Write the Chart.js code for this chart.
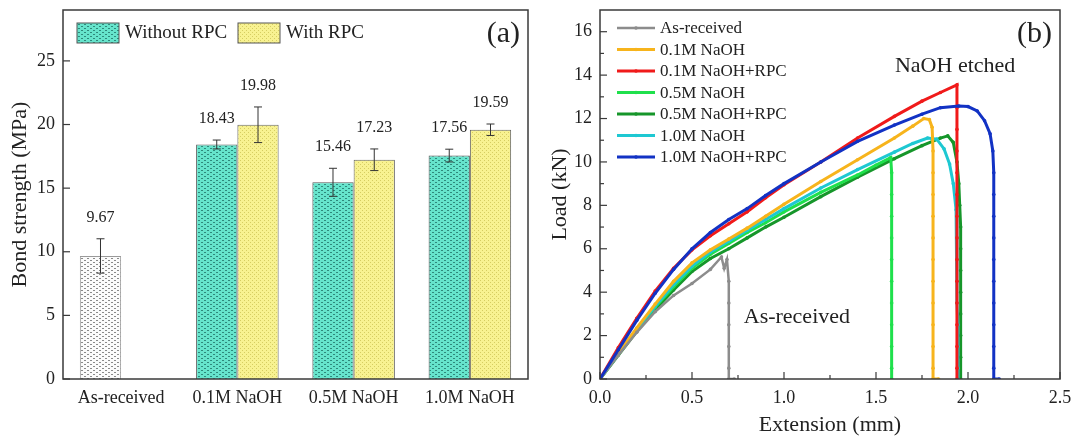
<!DOCTYPE html>
<html>
<head>
<meta charset="utf-8">
<script src="https://cdn.jsdelivr.net/npm/chart.js@4.4.0/dist/chart.umd.min.js"></script>
<style>
  html, body { margin: 0; padding: 0; background: #fff; }
  #wrap { display: flex; width: 1073px; height: 441px; }
  canvas { display: block; }
</style>
</head>
<body>
<div id="wrap">
  <canvas id="barChart" width="536" height="441"></canvas>
  <canvas id="lineChart" width="537" height="441"></canvas>
</div>
<script>
// ---- panel (a): bond strength ----
const groups = ['As-received', '0.1M NaOH', '0.5M NaOH', '1.0M NaOH'];
const withoutRPC = [9.67, 18.43, 15.46, 17.56];
const withoutRPCErr = [1.35, 0.35, 1.1, 0.5];
const withRPC = [null, 19.98, 17.23, 19.59];
const withRPCErr = [null, 1.4, 0.85, 0.45];
const strengthTicks = [0, 5, 10, 15, 20, 25];

// ---- panel (b): load vs extension, [mm, kN] ----
const asReceived = [[0,0],[0.1,1.1],[0.2,2.15],[0.3,3.1],[0.4,3.85],[0.5,4.4],[0.6,5.05],[0.66,5.62],[0.675,5.1],[0.69,5.5],[0.7,4.5],[0.7,3.5],[0.7,2.5],[0.7,1.5],[0.7,0.5],[0.7,0],[0.73,0]];
const naoh01 = [[0,0],[0.1,1.2],[0.2,2.35],[0.3,3.45],[0.4,4.5],[0.5,5.35],[0.6,5.95],[0.7,6.45],[0.8,6.95],[0.9,7.5],[1.0,8.05],[1.2,9.1],[1.4,10.1],[1.6,11.1],[1.7,11.65],[1.76,12.0],[1.79,11.95],[1.805,11.6],[1.81,10.5],[1.81,9.5],[1.81,8.5],[1.81,7.5],[1.81,6.5],[1.81,5.5],[1.81,4.5],[1.81,3.5],[1.81,2.5],[1.81,1.5],[1.81,0.5],[1.81,0],[1.84,0]];
const naoh01RPC = [[0,0],[0.1,1.45],[0.2,2.8],[0.3,4.05],[0.4,5.1],[0.5,5.95],[0.6,6.6],[0.7,7.15],[0.8,7.7],[0.9,8.35],[1.0,8.95],[1.2,10.0],[1.4,11.1],[1.6,12.1],[1.75,12.8],[1.85,13.2],[1.94,13.55],[1.94,12.5],[1.94,11.5],[1.94,10.5],[1.94,9.5],[1.94,8.5],[1.94,7.5],[1.94,6.5],[1.94,5.5],[1.94,4.5],[1.94,3.5],[1.94,2.5],[1.94,1.5],[1.94,0.5],[1.94,0]];
const naoh05 = [[0,0],[0.1,1.15],[0.2,2.25],[0.3,3.3],[0.4,4.25],[0.5,5.1],[0.6,5.75],[0.7,6.25],[0.8,6.75],[0.9,7.2],[1.0,7.7],[1.2,8.6],[1.4,9.4],[1.5,9.85],[1.58,10.2],[1.585,9.5],[1.585,8.5],[1.585,7.5],[1.585,6.5],[1.585,5.5],[1.585,4.5],[1.585,3.5],[1.585,2.5],[1.585,1.5],[1.585,0.5],[1.585,0]];
const naoh05RPC = [[0,0],[0.1,1.1],[0.2,2.2],[0.3,3.2],[0.4,4.1],[0.5,4.95],[0.6,5.55],[0.7,6.0],[0.8,6.5],[0.9,7.0],[1.0,7.45],[1.2,8.4],[1.4,9.3],[1.6,10.15],[1.75,10.75],[1.85,11.1],[1.89,11.2],[1.92,10.9],[1.94,10.0],[1.95,9.0],[1.955,8],[1.96,7],[1.96,6],[1.96,5],[1.96,4],[1.96,3],[1.96,2],[1.96,1],[1.96,0]];
const naoh10 = [[0,0],[0.1,1.15],[0.2,2.3],[0.3,3.35],[0.4,4.35],[0.5,5.2],[0.6,5.85],[0.7,6.35],[0.8,6.85],[0.9,7.35],[1.0,7.85],[1.2,8.8],[1.4,9.65],[1.6,10.45],[1.7,10.85],[1.78,11.1],[1.83,11.05],[1.87,10.6],[1.9,9.9],[1.92,9.0],[1.935,7.8],[1.94,6.5],[1.94,5.5],[1.94,4.5],[1.94,3.5],[1.945,2.5],[1.945,1.5],[1.945,0.5],[1.945,0]];
const naoh10RPC = [[0,0],[0.1,1.35],[0.2,2.7],[0.3,3.95],[0.4,5.05],[0.5,6.0],[0.6,6.75],[0.7,7.35],[0.8,7.85],[0.9,8.45],[1.0,9.0],[1.2,10.0],[1.4,10.95],[1.6,11.7],[1.75,12.2],[1.85,12.5],[1.95,12.58],[2.0,12.55],[2.05,12.35],[2.09,11.9],[2.12,11.3],[2.135,10.5],[2.14,9.5],[2.14,8.5],[2.14,7.5],[2.14,6.5],[2.14,5.5],[2.14,4.5],[2.14,3.5],[2.14,2.5],[2.14,1.5],[2.14,0.5],[2.14,0],[2.17,0]];
const extTicks = [0, 0.5, 1.0, 1.5, 2.0, 2.5];
const loadTicks = [0, 2, 4, 6, 8, 10, 12, 14, 16];

const serif = "'Liberation Serif', 'Times New Roman', serif";
const ink = '#222';

function makePattern(bg, dot, w, h, marks) {
  const c = document.createElement('canvas');
  c.width = w; c.height = h;
  const g = c.getContext('2d');
  g.fillStyle = bg;
  g.fillRect(0, 0, w, h);
  g.fillStyle = dot;
  marks.forEach(m => g.fillRect(m[0], m[1], m[2], m[3]));
  return g.createPattern(c, 'repeat');
}

const patCyan = makePattern('#66e4cc', '#2e8a7c', 6, 4, [[0,0,2,1],[3,2,2,1]]);
const patYellow = makePattern('#f8f291', '#d6cd62', 4, 4, [[0,0,1,1],[2,2,1,1]]);
const patWhite = makePattern('#fbfbfb', '#8a8a8a', 6, 4, [[0,0,2,1],[3,2,2,1]]);

// frame round the plot area and inward tick marks
function framePlugin(xMarks, minor) {
  return {
    id: 'frame',
    afterDraw(chart) {
      const { ctx, chartArea: a, scales } = chart;
      const x = scales.x, y = scales.y;
      ctx.save();
      ctx.strokeStyle = '#3a3a3a';
      ctx.lineWidth = 1.5;
      ctx.strokeRect(a.left, a.top, a.right - a.left, a.bottom - a.top);
      ctx.lineWidth = 1.2;
      const seg = (x1, y1, x2, y2) => { ctx.beginPath(); ctx.moveTo(x1, y1); ctx.lineTo(x2, y2); ctx.stroke(); };
      const yv = y.ticks.map(t => t.value);
      yv.forEach(v => { const p = y.getPixelForValue(v); seg(a.left, p, a.left + 7, p); });
      if (minor) {
        for (let i = 0; i < yv.length - 1; i++) {
          const p = y.getPixelForValue((yv[i] + yv[i + 1]) / 2);
          seg(a.left, p, a.left + 4, p);
        }
      }
      if (xMarks) {
        const xv = x.ticks.map(t => t.value);
        xv.forEach(v => { const p = x.getPixelForValue(v); seg(p, a.bottom, p, a.bottom - 7); });
        if (minor) {
          for (let i = 0; i < xv.length - 1; i++) {
            const p = x.getPixelForValue((xv[i] + xv[i + 1]) / 2);
            seg(p, a.bottom, p, a.bottom - 4);
          }
        }
      }
      ctx.restore();
    }
  };
}

function panelLabel(text) {
  return {
    id: 'panelLabel',
    afterDraw(chart) {
      const { ctx, chartArea: a } = chart;
      ctx.save();
      ctx.font = '30px ' + serif;
      ctx.fillStyle = ink;
      ctx.textAlign = 'right';
      ctx.textBaseline = 'middle';
      ctx.fillText(text, a.right - 8, a.top + 24);
      ctx.restore();
    }
  };
}

// error bars and value labels on the bars
const errorBars = {
  id: 'errorBars',
  afterDatasetsDraw(chart) {
    const { ctx, scales: { y } } = chart;
    ctx.save();
    chart.data.datasets.forEach((ds, i) => {
      const meta = chart.getDatasetMeta(i);
      meta.data.forEach((bar, j) => {
        const v = ds.data[j], e = ds.errors[j];
        if (v == null) return;
        const top = y.getPixelForValue(v + e), bot = y.getPixelForValue(v - e);
        ctx.strokeStyle = '#333';
        ctx.lineWidth = 1;
        ctx.beginPath();
        ctx.moveTo(bar.x, top); ctx.lineTo(bar.x, bot);
        ctx.moveTo(bar.x - 4, top); ctx.lineTo(bar.x + 4, top);
        ctx.moveTo(bar.x - 4, bot); ctx.lineTo(bar.x + 4, bot);
        ctx.stroke();
        ctx.font = '16px ' + serif;
        ctx.fillStyle = ink;
        ctx.textAlign = 'center';
        ctx.textBaseline = 'middle';
        ctx.fillText(v.toFixed(2), bar.x, top - 21);
      });
    });
    ctx.restore();
  }
};

const barLegend = {
  id: 'barLegend',
  afterDraw(chart) {
    const { ctx, chartArea: a } = chart;
    const items = [
      { label: chart.data.datasets[0].label, fill: patCyan, left: 14 },
      { label: chart.data.datasets[1].label, fill: patYellow, left: 175 }
    ];
    ctx.save();
    ctx.font = '19px ' + serif;
    ctx.textBaseline = 'middle';
    items.forEach(it => {
      const bx = a.left + it.left, by = a.top + 13;
      ctx.fillStyle = it.fill;
      ctx.fillRect(bx, by, 42, 20);
      ctx.strokeStyle = '#555';
      ctx.lineWidth = 1;
      ctx.strokeRect(bx, by, 42, 20);
      ctx.fillStyle = ink;
      ctx.fillText(it.label, bx + 48, by + 10);
    });
    ctx.restore();
  }
};

// keep the plot area where the reference has it: no extra room for edge labels
const fixY = w => s => { s.width = w; s.paddingTop = 0; s.paddingBottom = 0; };
const fixX = s => { s.height = 62; s.paddingLeft = 0; s.paddingRight = 0; };

const barCtx = document.getElementById('barChart');
new Chart(barCtx, {
  type: 'bar',
  data: {
    labels: groups,
    datasets: [
      {
        label: 'Without RPC',
        data: withoutRPC,
        errors: withoutRPCErr,
        backgroundColor: [patWhite, patCyan, patCyan, patCyan],
        borderColor: ['#9a9a9a', '#555', '#555', '#555'],
        borderWidth: 1,
        categoryPercentage: 0.71,
        barPercentage: 1.0
      },
      {
        label: 'With RPC',
        data: withRPC,
        errors: withRPCErr,
        backgroundColor: patYellow,
        borderColor: '#666',
        borderWidth: 1,
        categoryPercentage: 0.71,
        barPercentage: 1.0
      }
    ]
  },
  options: {
    responsive: false,
    animation: false,
    layout: { padding: { left: 0, right: 8, top: 10, bottom: 0 } },
    plugins: { legend: { display: false }, tooltip: { enabled: false } },
    scales: {
      x: {
        type: 'category',
        offset: true,
        grid: { display: false, drawTicks: false },
        border: { display: false },
        ticks: { color: ink, font: { family: serif, size: 18 }, padding: 8 },
        afterFit: fixX
      },
      y: {
        min: 0,
        max: 29,
        afterBuildTicks: s => { s.ticks = strengthTicks.map(v => ({ value: v })); },
        grid: { display: false, drawTicks: false },
        border: { display: false },
        ticks: { color: ink, font: { family: serif, size: 18 }, padding: 8 },
        title: { display: true, text: 'Bond strength (MPa)', color: ink, font: { family: serif, size: 22 }, padding: { top: 7, bottom: 0 } },
        afterFit: fixY(63)
      }
    }
  },
  plugins: [framePlugin(false, false), errorBars, barLegend, panelLabel('(a)')]
});

// ---- panel (b) ----
const series = [
  { label: 'As-received', pts: asReceived, color: '#8c8c8c', width: 2.5, order: 1 },
  { label: '0.1M NaOH', pts: naoh01, color: '#f7b41c', width: 3, order: 3 },
  { label: '0.1M NaOH+RPC', pts: naoh01RPC, color: '#f01a1a', width: 3, order: 2 },
  { label: '0.5M NaOH', pts: naoh05, color: '#1fe04c', width: 3, order: 5 },
  { label: '0.5M NaOH+RPC', pts: naoh05RPC, color: '#16962a', width: 3, order: 6 },
  { label: '1.0M NaOH', pts: naoh10, color: '#1ec8d2', width: 3, order: 4 },
  { label: '1.0M NaOH+RPC', pts: naoh10RPC, color: '#1232c4', width: 3, order: 0 }
];

const lineLegend = {
  id: 'lineLegend',
  afterDraw(chart) {
    const { ctx, chartArea: a } = chart;
    ctx.save();
    ctx.font = '17px ' + serif;
    ctx.textBaseline = 'middle';
    chart.data.datasets.forEach((ds, i) => {
      const y = a.top + 18 + i * 21.5, x0 = a.left + 17;
      ctx.strokeStyle = ds.borderColor;
      ctx.lineWidth = ds.borderWidth;
      ctx.beginPath(); ctx.moveTo(x0, y); ctx.lineTo(x0 + 38, y); ctx.stroke();
      ctx.fillStyle = ds.borderColor;
      ctx.beginPath(); ctx.arc(x0 + 19, y, 1.8, 0, Math.PI * 2); ctx.fill();
      ctx.fillStyle = ink;
      ctx.fillText(ds.label, x0 + 43, y + 1);
    });
    ctx.restore();
  }
};

const notes = {
  id: 'notes',
  afterDraw(chart) {
    const { ctx, scales: { x, y } } = chart;
    ctx.save();
    ctx.font = '22px ' + serif;
    ctx.fillStyle = ink;
    ctx.textAlign = 'center';
    ctx.textBaseline = 'middle';
    ctx.fillText('NaOH etched', x.getPixelForValue(1.93), y.getPixelForValue(14.4));
    ctx.fillText('As-received', x.getPixelForValue(1.07), y.getPixelForValue(2.85));
    ctx.restore();
  }
};

const lineCtx = document.getElementById('lineChart');
new Chart(lineCtx, {
  type: 'line',
  data: {
    datasets: series.map(s => ({
      label: s.label,
      data: s.pts.map(p => ({ x: p[0], y: p[1] })),
      borderColor: s.color,
      backgroundColor: s.color,
      borderWidth: s.width,
      pointRadius: 1.8,
      pointBorderWidth: 0,
      pointBackgroundColor: s.color,
      tension: 0,
      order: s.order
    }))
  },
  options: {
    responsive: false,
    animation: false,
    layout: { padding: { left: 0, right: 13, top: 10, bottom: 0 } },
    plugins: { legend: { display: false }, tooltip: { enabled: false } },
    scales: {
      x: {
        type: 'linear',
        min: 0,
        max: 2.5,
        afterBuildTicks: s => { s.ticks = extTicks.map(v => ({ value: v })); },
        grid: { display: false, drawTicks: false },
        border: { display: false },
        ticks: { color: ink, font: { family: serif, size: 18 }, padding: 8, callback: v => v.toFixed(1) },
        title: { display: true, text: 'Extension (mm)', color: ink, font: { family: serif, size: 22 }, padding: { top: 3, bottom: 3 } },
        afterFit: fixX
      },
      y: {
        min: 0,
        max: 17,
        afterBuildTicks: s => { s.ticks = loadTicks.map(v => ({ value: v })); },
        grid: { display: false, drawTicks: false },
        border: { display: false },
        ticks: { color: ink, font: { family: serif, size: 18 }, padding: 8 },
        title: { display: true, text: 'Load (kN)', color: ink, font: { family: serif, size: 22 }, padding: { top: 11, bottom: 0 } },
        afterFit: fixY(64)
      }
    }
  },
  plugins: [framePlugin(true, true), lineLegend, notes, panelLabel('(b)')]
});
</script>
</body>
</html>
